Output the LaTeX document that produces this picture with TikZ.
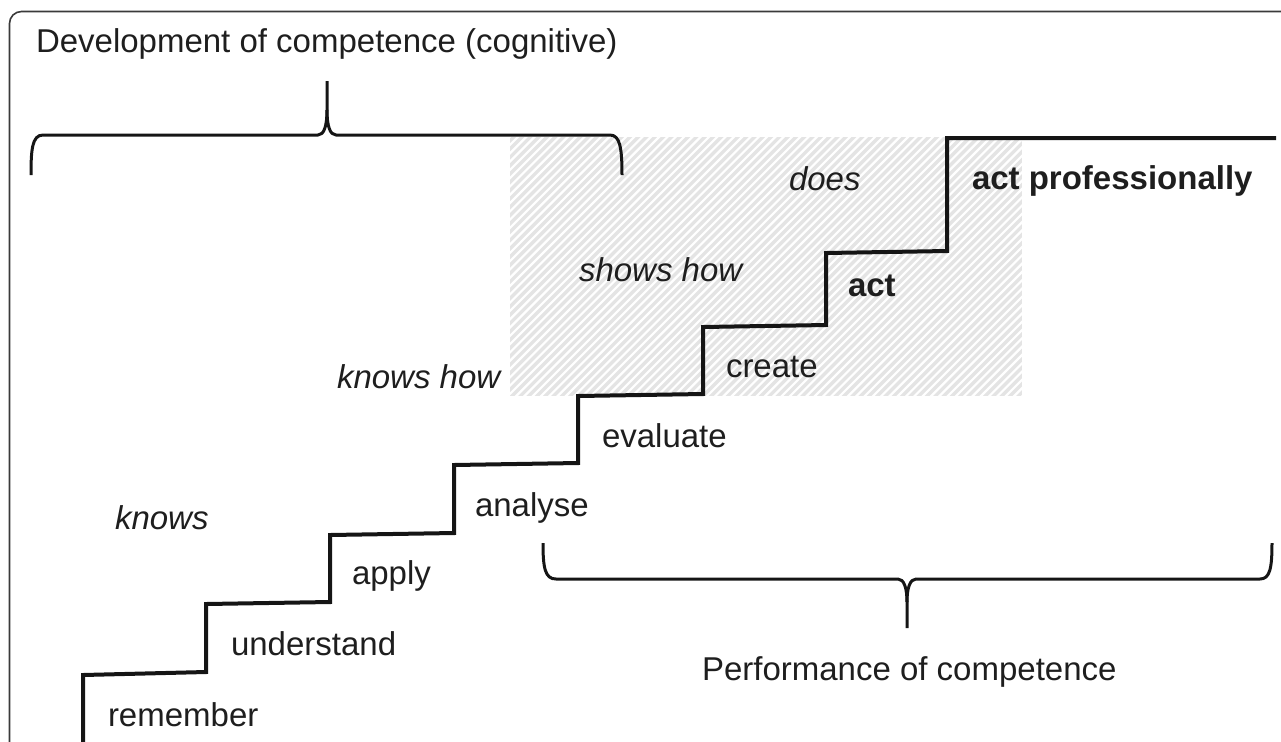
\documentclass[tikz,border=0pt]{standalone}
\usepackage{fontspec}
\setmainfont{Liberation Sans}
\definecolor{ink}{HTML}{151515}
\definecolor{txt}{HTML}{1E1E1E}
\definecolor{framegray}{HTML}{3A3A3A}
\definecolor{hatchgray}{HTML}{E4E4E4}
\begin{document}
\begin{tikzpicture}[x=0.5pt,y=-0.5pt,
  lbl/.style={anchor=base west, inner sep=0pt, outer sep=0pt, text=txt, font=\fontsize{16.5}{19}\selectfont},
  stair/.style={draw=ink, line width=2pt, line join=miter},
  brace/.style={draw=ink, line width=1.5pt, line join=round}]
\useasboundingbox (0,0) rectangle (1281,741);
\begin{scope}
\clip (0,0) rectangle (1281,741);
% frame
\draw[draw=framegray, line width=0.8pt, rounded corners=6pt] (9.5,11.5) rectangle (1330,800);
% hatched area
\begin{scope}
\clip (510,137) rectangle (1022,396);
\fill[hatchgray] (510,137) rectangle (1022,396);
\foreach \i in {0,8.3,...,800} \draw[white, line width=1.1pt] (230+\i,400) -- ++(300,-300);
\end{scope}
% staircase
\coordinate (s0) at (83,745);
\coordinate (s1) at (1276,138);
\draw[stair] (s0) -- (83,675) -- (206,672) -- (206,604) -- (330,602) -- (330,535) -- (454,533) -- (454,465) -- (578,463) -- (578,396) -- (703,394) -- (703,327) -- (826,325) -- (826,253) -- (947,251) -- (947,138) -- (s1);
% top brace
\draw[brace] (31,175) .. controls (31,150) and (32,135) .. (43,135) -- (318,135) .. controls (324,135) and (327,126) .. (327,110) -- (327,81);
\draw[brace] (327,110) .. controls (327,126) and (330,135) .. (336,135) -- (610,135) .. controls (620,135) and (622,148) .. (622,175);
% bottom brace
\draw[brace] (543,543) .. controls (543,568) and (545,579) .. (556,579) -- (898,579) .. controls (904,579) and (907,588) .. (907,602) -- (907,628);
\draw[brace] (907,602) .. controls (907,588) and (910,579) .. (916,579) -- (1260,579) .. controls (1270,579) and (1272,568) .. (1272,543);
\end{scope}
% texts
\node[lbl] (title) at (36,52) {Development of competence (cognitive)};
\node[lbl] (perf) at (702,680) {Performance of competence};
\node[lbl, font=\fontsize{16.5}{19}\selectfont\itshape] (knows) at (115,529) {knows};
\node[lbl, font=\fontsize{16.5}{19}\selectfont\itshape] (knowshow) at (337,388) {knows how};
\node[lbl, font=\fontsize{16.5}{19}\selectfont\itshape] (showshow) at (579,281) {shows how};
\node[lbl, font=\fontsize{16.5}{19}\selectfont\itshape] (does) at (789,190) {does};
\node[lbl, font=\fontsize{16.5}{19}\selectfont\bfseries] (actpro) at (972,189) {act professionally};
\node[lbl, font=\fontsize{16.5}{19}\selectfont\bfseries] (act) at (848,296) {act};
\node[lbl] (create) at (726,377) {create};
\node[lbl] (evaluate) at (602,447) {evaluate};
\node[lbl] (analyse) at (475,516) {analyse};
\node[lbl] (apply) at (352,584) {apply};
\node[lbl] (understand) at (231,655) {understand};
\node[lbl] (remember) at (108,726) {remember};
\end{tikzpicture}
\end{document}
